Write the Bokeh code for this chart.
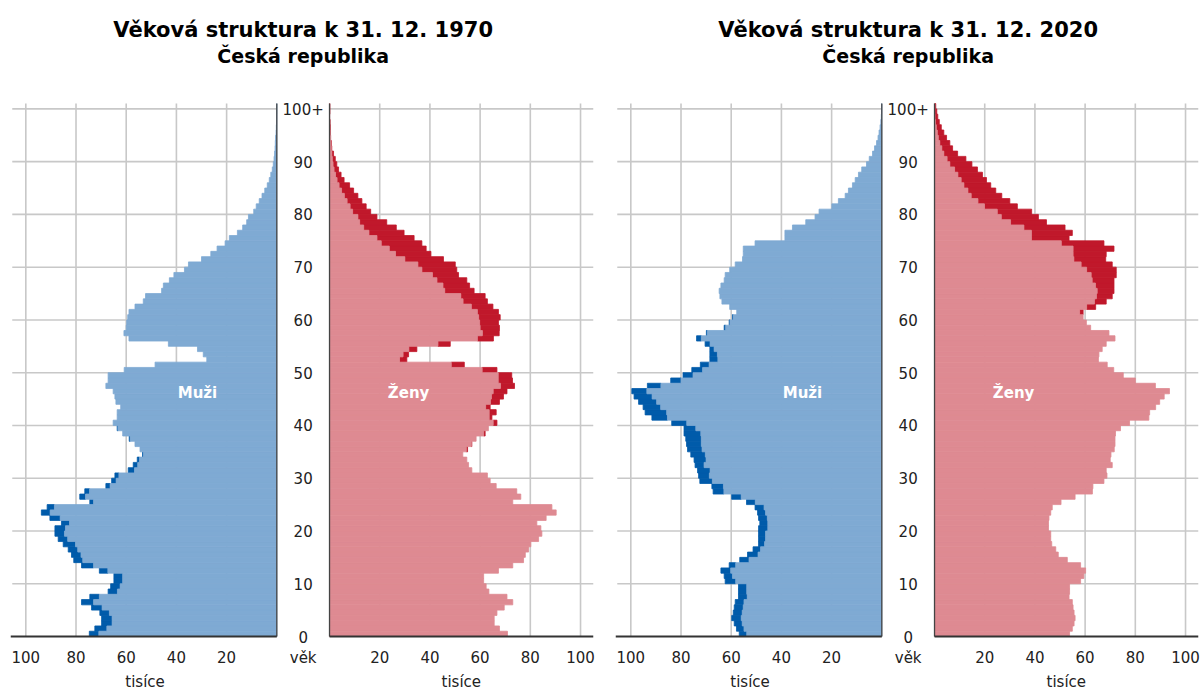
import numpy as np
from bokeh.plotting import figure
from bokeh.models import Range1d, FixedTicker, ColumnDataSource, LinearAxis
from bokeh.layouts import row
from bokeh.embed import file_html
from bokeh.resources import INLINE
from bokeh.core.properties import value

# ---------------- data (thousands of persons, ages 0 .. 100+) ----------------
ages = list(range(101))
age_ticks = [0, 10, 20, 30, 40, 50, 60, 70, 80, 90, 100]
age_tick_labels = ["0", "10", "20", "30", "40", "50", "60", "70", "80", "90", "100+"]
x_ticks = [20, 40, 60, 80, 100]
x_tick_labels = ["20", "40", "60", "80", "100"]

men_1970 = [74.7, 72.5, 69.8, 69.8, 70.5, 73.8, 77.8, 74.5, 67.2, 66.2,
            64.9, 64.9, 70.7, 77.8, 80.9, 81.8, 83.1, 85.1, 87.1, 88.4,
            88.4, 85.8, 90.4, 93.8, 91.5, 74.5, 78.5, 76.5, 68.1, 65.8,
            64.5, 59.2, 57.2, 55.6, 53.5, 54.5, 56.5, 58.8, 61.4, 63.6,
            65.2, 63.6, 63.6, 62.2, 64.1, 64.5, 65.2, 68.1, 67.2, 67.2,
            60.8, 48.5, 27.9, 29.3, 31.6, 43.2, 58.9, 60.9, 60.0, 59.8,
            59.4, 58.9, 56.5, 53.2, 52.3, 45.9, 45.2, 42.8, 41.0, 36.8,
            35.2, 30.0, 26.3, 23.8, 20.6, 18.9, 15.7, 13.6, 12.0, 11.3,
            9.2, 8.2, 7.0, 5.9, 4.8, 3.8, 3.0, 2.4, 1.8, 1.4,
            1.1, 0.9, 0.7, 0.6, 0.5, 0.3, 0.2, 0.1, 0.1, 0.05, 0.05]

women_1970 = [70.9, 67.7, 65.6, 65.6, 66.7, 69.6, 73.0, 70.7, 63.5, 62.4,
              61.4, 61.4, 67.3, 73.0, 77.3, 78.0, 79.3, 80.2, 83.3, 84.6,
              84.2, 82.6, 86.3, 90.3, 88.6, 73.0, 76.2, 74.6, 66.4, 64.0,
              62.9, 56.7, 55.4, 54.7, 53.1, 55.0, 56.7, 58.4, 62.0, 63.3,
              66.7, 64.7, 66.4, 64.0, 67.7, 69.3, 70.7, 73.7, 72.9, 72.6,
              66.7, 53.7, 30.8, 31.5, 34.8, 48.1, 65.3, 67.6, 67.7, 67.3,
              68.0, 67.3, 65.1, 62.9, 62.0, 57.6, 55.8, 54.7, 51.4, 50.7,
              50.1, 45.4, 40.4, 38.5, 36.8, 33.7, 29.7, 26.6, 22.8, 18.9,
              16.4, 14.6, 12.9, 11.3, 9.6, 8.0, 5.8, 4.6, 3.6, 2.9,
              2.3, 1.6, 0.9, 0.7, 0.5, 0.4, 0.3, 0.2, 0.1, 0.1, 0.1]

men_2020 = [56.8, 57.9, 58.8, 59.8, 59.2, 58.8, 58.4, 57.1, 57.1, 57.1,
            62.4, 62.8, 64.1, 60.8, 56.6, 53.5, 51.3, 49.1, 49.1, 49.1,
            49.1, 48.6, 49.1, 49.5, 50.5, 53.9, 59.8, 67.2, 67.7, 72.5,
            73.0, 73.4, 74.4, 74.8, 76.1, 77.4, 77.8, 78.1, 78.8, 78.8,
            83.7, 91.6, 94.3, 95.1, 96.9, 98.7, 99.6, 93.4, 84.1, 79.2,
            75.7, 72.3, 68.5, 68.5, 68.5, 70.4, 73.8, 69.9, 62.8, 60.8,
            59.5, 57.8, 60.6, 63.7, 64.5, 64.8, 64.1, 62.8, 62.4, 60.6,
            58.4, 55.5, 55.2, 55.2, 50.5, 38.6, 38.6, 35.6, 30.3, 26.6,
            25.0, 19.9, 17.3, 14.6, 13.3, 11.7, 10.6, 9.3, 8.0, 6.1,
            5.0, 3.7, 2.9, 2.1, 1.5, 1.1, 0.7, 0.4, 0.2, 0.1, 0.1]

women_2020 = [53.8, 54.9, 55.6, 56.0, 55.6, 55.2, 54.9, 53.6, 53.8, 53.8,
              58.2, 59.5, 60.2, 58.2, 52.9, 49.3, 48.3, 46.7, 46.3, 46.3,
              45.4, 45.4, 45.6, 46.3, 46.9, 50.4, 56.0, 62.9, 63.1, 67.5,
              68.7, 68.4, 70.8, 70.0, 70.3, 71.6, 71.9, 71.9, 72.1, 74.1,
              77.7, 85.4, 85.7, 88.1, 89.7, 91.5, 93.6, 88.0, 80.0, 75.2,
              71.4, 68.8, 65.3, 65.5, 66.8, 68.4, 71.9, 69.5, 62.2, 60.5,
              59.2, 59.2, 64.2, 68.4, 70.8, 71.5, 71.5, 71.5, 72.4, 72.4,
              70.8, 68.2, 68.4, 71.5, 67.5, 53.6, 54.9, 52.0, 44.6, 41.4,
              38.7, 33.0, 30.0, 26.8, 24.4, 22.4, 20.7, 19.1, 17.1, 14.9,
              12.5, 9.2, 7.2, 6.1, 4.8, 3.7, 2.7, 1.9, 1.3, 0.9, 0.5]

titles = ["Věková struktura k 31. 12. 1970", "Věková struktura k 31. 12. 2020"]
subtitle = "Česká republika"
men_label = "Muži"
women_label = "Ženy"
x_axis_label = "tisíce"
age_axis_label = "věk"

# ---------------- style / geometry ----------------
FONT = "DejaVu Sans"
LIGHT_BLUE = "#7FAAD3"
DARK_BLUE = "#005BAA"
LIGHT_RED = "#DE8A92"
DARK_RED = "#C0182B"
GRID = "#C8C8C8"
AXIS = "#444444"
BASE = "#333333"
TXT = "#222222"

SX = 2.51             # px per thousand
SY = 5.276            # px per year of age
ZERO_PX = 636         # page row of age 0
FRAME_BOTTOM_PX = 645
FH = FRAME_BOTTOM_PX  # frame runs from the top of the page
YLO = (ZERO_PX - FRAME_BOTTOM_PX) / SY
YHI = ZERO_PX / SY
TOP_AGE = 101
G = 21                # women's zero, in thousands right of the men's zero
XS = -106.1           # left end of the men's half
FW = 583
XE = XS + FW / SX     # right end of the women's half
CAPTION_X = 52.5      # centre of each half, for "tisíce"
TITLE_MID_PX = 29.0
SUBTITLE_MID_PX = 55.0


def y_of_px(py):
    return (ZERO_PX - py) / SY


def style_axis(ax, standoff):
    ax.axis_line_color = None
    ax.major_tick_line_color = None
    ax.minor_tick_line_color = None
    ax.major_tick_out = 0
    ax.major_tick_in = 0
    ax.major_label_standoff = standoff
    ax.major_label_text_font = FONT
    ax.major_label_text_font_size = "15px"
    ax.major_label_text_color = TXT


def pyramid(men, women, title, border_left, border_right):
    m = np.array(men, dtype=float)
    f = np.array(women, dtype=float)
    lo = np.minimum(m, f)
    src = ColumnDataSource(dict(
        y=np.array(ages) + 0.5,
        m_left=-m, lo_left=-lo,
        f_right=G + f, lo_right=G + lo,
        m_excess=(m > lo).astype(float),
        f_excess=(f > lo).astype(float),
    ))
    p = figure(title=None, frame_width=FW, frame_height=FH,
               x_range=Range1d(XS, XE), y_range=Range1d(YLO, YHI),
               output_backend="svg", toolbar_location=None,
               y_axis_location=None,
               min_border_left=border_left, min_border_right=border_right,
               min_border_top=0, min_border_bottom=40,
               outline_line_color=None,
               background_fill_color="white", border_fill_color="white")
    p.grid.visible = False

    # tick labels of both halves (+ the "věk" caption under the age column)
    ticks = [-v for v in x_ticks] + [G / 2] + [G + v for v in x_ticks]
    labels = x_tick_labels + [age_axis_label] + x_tick_labels
    ax = p.xaxis[0]
    style_axis(ax, 3)
    ax.ticker = FixedTicker(ticks=ticks)
    ax.major_label_overrides = dict(zip(ticks, labels))

    # "tisíce" under the middle of each half
    cap_ticks = [-CAPTION_X, G + CAPTION_X]
    ax2 = LinearAxis(ticker=FixedTicker(ticks=cap_ticks),
                     major_label_overrides={t: x_axis_label for t in cap_ticks})
    style_axis(ax2, 3)
    p.add_layout(ax2, "below")

    # grid lines (inside each half only)
    vx = [-v for v in x_ticks] + [G + v for v in x_ticks]
    p.segment(x0=vx, y0=[0] * len(vx), x1=vx, y1=[TOP_AGE] * len(vx),
              line_color=GRID, line_width=1.6)
    hy = age_ticks[1:]
    p.segment(x0=[XS + 0.7] * len(hy), y0=hy, x1=[0] * len(hy), y1=hy,
              line_color=GRID, line_width=1.6)
    p.segment(x0=[G] * len(hy), y0=hy, x1=[XE] * len(hy), y1=hy,
              line_color=GRID, line_width=1.6)

    # bars: light = part shared with the other sex, dark = the surplus
    p.hbar(y="y", height=1, left="m_left", right="lo_left", source=src,
           fill_color=DARK_BLUE, fill_alpha="m_excess",
           line_color=DARK_BLUE, line_alpha="m_excess", line_width=0.8)
    p.hbar(y="y", height=1, left="lo_left", right=0, source=src,
           fill_color=LIGHT_BLUE, line_color=LIGHT_BLUE, line_width=0.8)
    p.hbar(y="y", height=1, left="lo_right", right="f_right", source=src,
           fill_color=DARK_RED, fill_alpha="f_excess",
           line_color=DARK_RED, line_alpha="f_excess", line_width=0.8)
    p.hbar(y="y", height=1, left=G, right="lo_right", source=src,
           fill_color=LIGHT_RED, line_color=LIGHT_RED, line_width=0.8)

    # axis lines
    p.segment(x0=[0, G], y0=[0, 0], x1=[0, G], y1=[TOP_AGE, TOP_AGE],
              line_color=AXIS, line_width=1.3)
    p.segment(x0=[XS, G], y0=[0, 0], x1=[0, XE], y1=[0, 0],
              line_color=BASE, line_width=1.8)

    # age labels between the halves
    p.text(x=[G / 2] * len(age_ticks), y=age_ticks, text=age_tick_labels,
           text_align="center", text_baseline="middle",
           text_font=value(FONT), text_font_size="15px", text_color=TXT)

    # sex labels
    p.text(x=[-31.6, G + 31.5], y=[46.2, 46.2], text=[men_label, women_label],
           text_align="center", text_baseline="middle",
           text_font=value(FONT), text_font_size="15px",
           text_font_style="bold", text_color="white")

    # titles
    p.text(x=[G / 2], y=[y_of_px(TITLE_MID_PX)], text=[title],
           text_align="center", text_baseline="middle",
           text_font=value(FONT), text_font_size="21px",
           text_font_style="bold", text_color="black")
    p.text(x=[G / 2], y=[y_of_px(SUBTITLE_MID_PX)], text=[subtitle],
           text_align="center", text_baseline="middle",
           text_font=value(FONT), text_font_size="19px",
           text_font_style="bold", text_color="black")
    return p


layout = row(pyramid(men_1970, women_1970, titles[0], 10, 7),
             pyramid(men_2020, women_2020, titles[1], 15, 3))

open("out.html", "w").write(file_html(layout, INLINE))
